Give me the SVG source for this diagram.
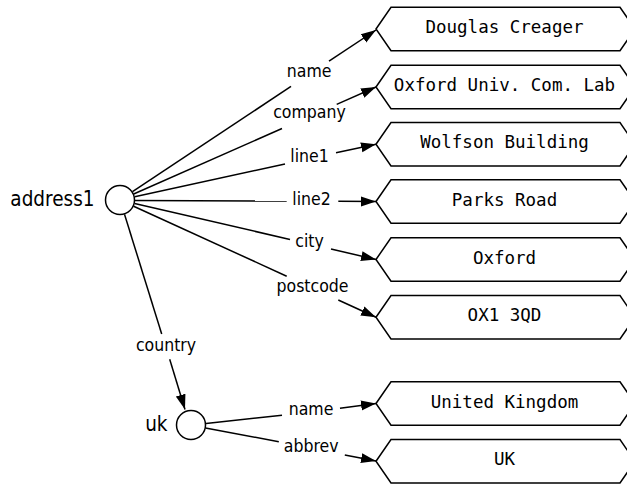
<svg xmlns="http://www.w3.org/2000/svg" width="627" height="487" viewBox="0 0 627 487">
<style>
  .bg { fill: #ffffff; }
  .node-circle { fill: #ffffff; stroke: #000000; stroke-width: 1.5; }
  .hex { fill: #ffffff; stroke: #000000; stroke-width: 1.5; stroke-linejoin: miter; }
  .val { font-family: "DejaVu Sans Mono", "Liberation Mono", monospace; font-size: 17.5px; fill: #000000; text-anchor: middle; }
  .nlabel { font-family: "DejaVu Sans Condensed", "DejaVu Sans", sans-serif; font-stretch: condensed; font-size: 20.5px; fill: #000000; text-anchor: end; }
  .elabel { font-family: "DejaVu Sans Condensed", "DejaVu Sans", sans-serif; font-stretch: condensed; font-size: 17.5px; fill: #000000; text-anchor: middle; }
  .edge { fill: none; stroke: #000000; stroke-width: 1.5; }
  .arrow { marker-end: url(#ah); }
</style>
<defs>
  <marker id="ah" markerUnits="userSpaceOnUse" markerWidth="16" markerHeight="12" viewBox="0 -6 16 12" refX="15" refY="0" orient="auto">
    <path d="M0,-5 L15,0 L0,5 z" fill="#000000"/>
  </marker>
</defs>
<rect class="bg" x="0" y="0" width="627" height="487"/>

<g id="connectors">
  <g id="e-name">
    <line class="edge" x1="132.5" y1="191.7" x2="291" y2="86.4"/>
    <line class="edge arrow" x1="329" y1="61.2" x2="376" y2="30"/>
    <text class="elabel" x="309.2" y="76.7">name</text>
  </g>
  <g id="e-company">
    <line class="edge" x1="133.7" y1="194" x2="282" y2="128.5"/>
    <line class="edge arrow" x1="336.7" y1="104.4" x2="376" y2="87"/>
    <text class="elabel" x="309.5" y="118.3">company</text>
  </g>
  <g id="e-line1">
    <line class="edge" x1="134.7" y1="196.8" x2="285" y2="163.9"/>
    <line class="edge arrow" x1="336" y1="152.7" x2="376" y2="144.3"/>
    <text class="elabel" x="309.5" y="161.7">line1</text>
  </g>
  <g id="e-line2">
    <line class="edge" x1="135" y1="200.5" x2="286.7" y2="201"/>
    <line class="edge arrow" x1="338.3" y1="201.3" x2="376" y2="201.5"/>
    <text class="elabel" x="311.5" y="205">line2</text>
  </g>
  <g id="e-city">
    <line class="edge" x1="134.6" y1="203.4" x2="290" y2="239.5"/>
    <line class="edge arrow" x1="331" y1="249" x2="376" y2="259.5"/>
    <text class="elabel" x="309.5" y="247.3">city</text>
  </g>
  <g id="e-postcode">
    <line class="edge" x1="133.6" y1="206.2" x2="286.7" y2="276.2"/>
    <line class="edge arrow" x1="338.3" y1="300" x2="376" y2="317.3"/>
    <text class="elabel" x="312.5" y="291.7">postcode</text>
  </g>
  <g id="e-country">
    <line class="edge" x1="124.5" y1="214.3" x2="161.7" y2="334"/>
    <line class="edge arrow" x1="169.7" y1="359.3" x2="185" y2="409.5"/>
    <text class="elabel" x="166" y="350.7">country</text>
  </g>
  <g id="e-uk-name">
    <line class="edge" x1="206" y1="423.5" x2="282" y2="415.3"/>
    <line class="edge arrow" x1="340" y1="408.3" x2="376" y2="403.5"/>
    <text class="elabel" x="311" y="415">name</text>
  </g>
  <g id="e-abbrev">
    <line class="edge" x1="205.5" y1="428" x2="278.8" y2="441.7"/>
    <line class="edge arrow" x1="344.8" y1="455" x2="376" y2="461"/>
    <text class="elabel" x="311.2" y="451.7">abbrev</text>
  </g>
</g>

<g id="address1">
  <circle class="node-circle" cx="120" cy="200" r="14.5"/>
  <text class="nlabel" x="94.5" y="206">address1</text>
</g>
<g id="uk">
  <circle class="node-circle" cx="191" cy="425" r="14.5"/>
  <text class="nlabel" x="167.5" y="431">uk</text>
</g>

<g id="v-douglas">
  <polygon class="hex" points="376,29 391,7.3 620,7.3 635,29 620,50.7 391,50.7"/>
  <text class="val" x="504.5" y="33.3">Douglas Creager</text>
</g>
<g id="v-company">
  <polygon class="hex" points="376,87 391,65.3 620,65.3 635,87 620,108.7 391,108.7"/>
  <text class="val" x="504.5" y="90.7">Oxford Univ. Com. Lab</text>
</g>
<g id="v-line1">
  <polygon class="hex" points="376,144.3 391,122.6 620,122.6 635,144.3 620,166 391,166"/>
  <text class="val" x="504.5" y="148.3">Wolfson Building</text>
</g>
<g id="v-line2">
  <polygon class="hex" points="376,201.5 391,179.8 620,179.8 635,201.5 620,223.2 391,223.2"/>
  <text class="val" x="504.5" y="205.5">Parks Road</text>
</g>
<g id="v-city">
  <polygon class="hex" points="376,259.5 391,237.8 620,237.8 635,259.5 620,281.2 391,281.2"/>
  <text class="val" x="504.5" y="263.5">Oxford</text>
</g>
<g id="v-postcode">
  <polygon class="hex" points="376,317.3 391,295.6 620,295.6 635,317.3 620,339 391,339"/>
  <text class="val" x="504.5" y="321.2">OX1 3QD</text>
</g>
<g id="v-ukname">
  <polygon class="hex" points="376,403.5 391,381.8 620,381.8 635,403.5 620,425.2 391,425.2"/>
  <text class="val" x="504.5" y="407.5">United Kingdom</text>
</g>
<g id="v-abbrev">
  <polygon class="hex" points="376,461.3 391,439.6 620,439.6 635,461.3 620,483 391,483"/>
  <text class="val" x="504.5" y="465.3">UK</text>
</g>
</svg>
